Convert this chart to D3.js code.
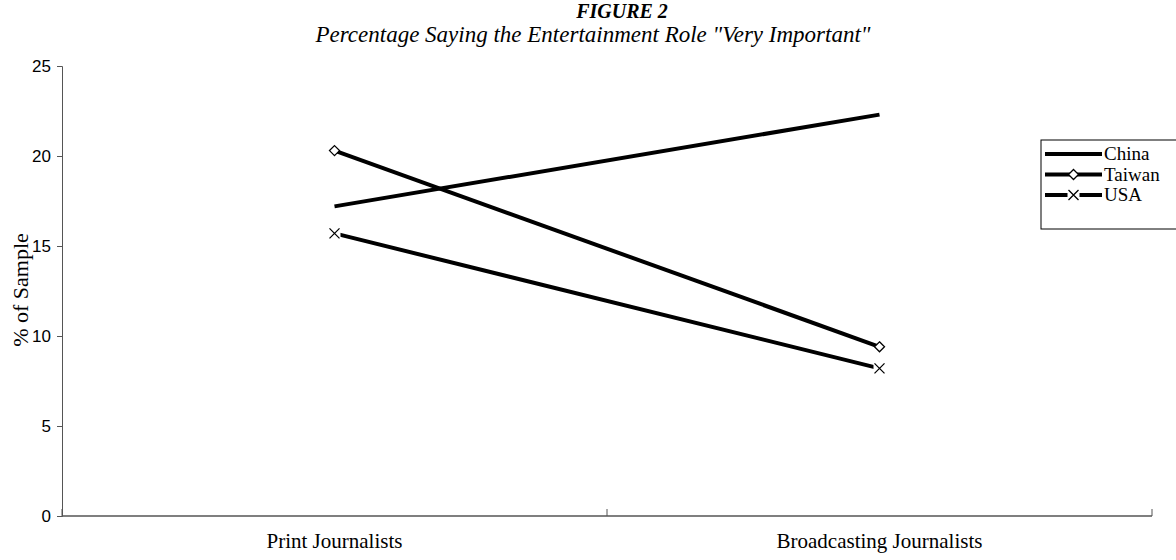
<!DOCTYPE html>
<html>
<head>
<meta charset="utf-8">
<script src="https://cdn.jsdelivr.net/npm/d3@7"></script>
<style>
  body { margin: 0; background: #fff; }
  svg { display: block; }
</style>
</head>
<body>
<div id="chart"></div>
<script>
const categories = ["Print Journalists", "Broadcasting Journalists"]
const china = [17.2, 22.3]
const taiwan = [20.3, 9.4]
const usa = [15.7, 8.2]
const yTicks = [0, 5, 10, 15, 20, 25]

const series = [
  { name: "China", values: china, marker: "none" },
  { name: "Taiwan", values: taiwan, marker: "diamond" },
  { name: "USA", values: usa, marker: "cross" }
]

const W = 1176, H = 560
const MARGIN = { TOP: 66, BOTTOM: 44, LEFT: 62, RIGHT: 24 }
const WIDTH = W - MARGIN.LEFT - MARGIN.RIGHT
const HEIGHT = H - MARGIN.TOP - MARGIN.BOTTOM
const SERIF = "Liberation Serif, Times New Roman, serif"

const svg = d3.select("#chart").append("svg")
  .attr("width", W)
  .attr("height", H)

const g = svg.append("g")
  .attr("transform", `translate(${MARGIN.LEFT}, ${MARGIN.TOP})`)

const x = d3.scaleBand().domain(categories).range([0, WIDTH])
const y = d3.scaleLinear().domain([0, 25]).range([HEIGHT, 0])

// y axis
const yAxis = g.append("g")
  .call(d3.axisLeft(y).tickValues(yTicks).tickSize(5).tickPadding(6))
yAxis.select(".domain").attr("stroke", "#555")
yAxis.selectAll(".tick line").attr("stroke", "#555")
yAxis.selectAll("text")
  .attr("font-family", "Liberation Sans, Arial, sans-serif")
  .attr("font-size", 17)
  .attr("fill", "#000")

// x axis, ticks point up between categories
const xAxis = g.append("g").attr("transform", `translate(0, ${HEIGHT})`)
xAxis.append("line")
  .attr("x1", 0).attr("x2", WIDTH)
  .attr("stroke", "#555").attr("stroke-width", 1.5)
const bounds = [0, x.step(), WIDTH]
xAxis.selectAll(".xt").data(bounds).enter().append("line")
  .attr("x1", d => d).attr("x2", d => d)
  .attr("y1", 0).attr("y2", -7)
  .attr("stroke", "#555")
xAxis.selectAll(".xl").data(categories).enter().append("text")
  .attr("x", d => x(d) + x.bandwidth() / 2)
  .attr("y", 32)
  .attr("text-anchor", "middle")
  .attr("font-family", SERIF)
  .attr("font-size", 21)
  .text(d => d)

// y label
g.append("text")
  .attr("transform", "rotate(-90)")
  .attr("x", -(HEIGHT / 2) + 1)
  .attr("y", -34)
  .attr("text-anchor", "middle")
  .attr("font-family", SERIF)
  .attr("font-size", 22)
  .text("% of Sample")

// titles
svg.append("text")
  .attr("x", 622).attr("y", 18)
  .attr("text-anchor", "middle")
  .attr("font-family", SERIF)
  .attr("font-size", 20)
  .attr("font-weight", "bold")
  .attr("font-style", "italic")
  .text("FIGURE 2")

svg.append("text")
  .attr("x", 593).attr("y", 42)
  .attr("text-anchor", "middle")
  .attr("font-family", SERIF)
  .attr("font-size", 23)
  .attr("font-style", "italic")
  .text("Percentage Saying the Entertainment Role \"Very Important\"")

const cx = c => x(c) + x.bandwidth() / 2
const line = d3.line().x((d, i) => cx(categories[i])).y(d => y(d))

function drawMarker(sel, type) {
  if (type === "diamond") {
    sel.append("path")
      .attr("d", "M0,-5L5,0L0,5L-5,0Z")
      .attr("fill", "#fff").attr("stroke", "#000").attr("stroke-width", 1.3)
  } else if (type === "cross") {
    sel.append("rect")
      .attr("x", -6).attr("y", -6).attr("width", 12).attr("height", 12)
      .attr("fill", "#fff")
    sel.append("path")
      .attr("d", "M-5,-5L5,5M-5,5L5,-5")
      .attr("stroke", "#000").attr("stroke-width", 1.3)
  }
}

series.forEach(s => {
  g.append("path")
    .datum(s.values)
    .attr("d", line)
    .attr("fill", "none")
    .attr("stroke", "#000")
    .attr("stroke-width", 4)
  s.values.forEach((v, i) => {
    const m = g.append("g").attr("transform", `translate(${cx(categories[i])}, ${y(v)})`)
    drawMarker(m, s.marker)
  })
})

// legend
const legend = svg.append("g").attr("transform", "translate(1041, 140)")
legend.append("rect")
  .attr("x", 0).attr("y", 0).attr("width", 140).attr("height", 89)
  .attr("fill", "#fff").attr("stroke", "#000")
series.forEach((s, i) => {
  const ly = 14 + i * 20.5
  legend.append("line")
    .attr("x1", 4).attr("x2", 61).attr("y1", ly).attr("y2", ly)
    .attr("stroke", "#000").attr("stroke-width", 4)
  const m = legend.append("g").attr("transform", `translate(32.5, ${ly})`)
  drawMarker(m, s.marker)
  legend.append("text")
    .attr("x", 63).attr("y", ly + 6)
    .attr("font-family", SERIF)
    .attr("font-size", 19)
    .text(s.name)
})
</script>
</body>
</html>
